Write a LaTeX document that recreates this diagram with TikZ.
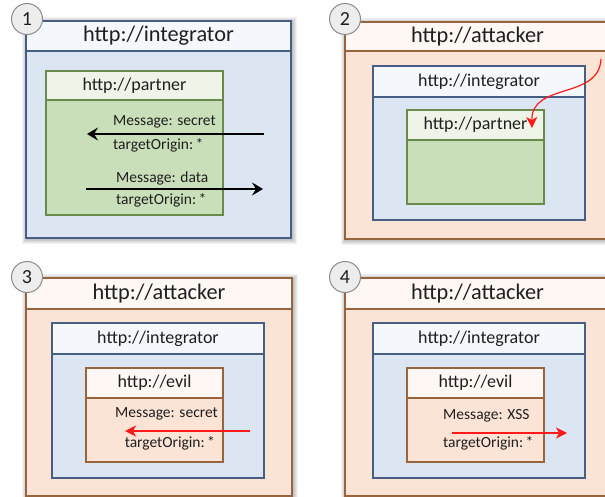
\documentclass[tikz,border=0pt]{standalone}
\usepackage{fontspec}
\setmainfont{Carlito}
\usetikzlibrary{arrows.meta}

\definecolor{IntBody}{HTML}{DCE6F2}
\definecolor{IntHead}{HTML}{F4F7FC}
\definecolor{IntLine}{HTML}{465D84}
\definecolor{PartBody}{HTML}{C9DFB9}
\definecolor{PartHead}{HTML}{EEF5E8}
\definecolor{PartLine}{HTML}{6A8A4C}
\definecolor{AttBody}{HTML}{FBE3D6}
\definecolor{AttHead}{HTML}{FEF7F3}
\definecolor{AttLine}{HTML}{98643E}
\definecolor{TextCol}{HTML}{1F1F1F}
\definecolor{BadgeFill}{HTML}{EDEDED}
\definecolor{BadgeLine}{HTML}{8C8C8C}
\definecolor{AttackRed}{HTML}{FF1A1A}

% window box: #1 colour prefix, (#2,#3)-(#4,#5) corners, #6 header bottom,
% #7 title, #8 title size, #9 title node name
\newcommand{\winbox}[9]{%
  \fill[#1Body] (#2,#3) rectangle (#4,#5);
  \fill[#1Head] (#2,#3) rectangle (#4,#6);
  \draw[#1Line, line width=1.3pt] (#2,#6) -- (#4,#6);
  \draw[#1Line, line width=1.3pt] (#2,#3) rectangle (#4,#5);
  \node[title, font=\fontsize{#8}{#8}\selectfont] (#9) at ({(#2+#4)/2},{(#3+#6)/2}) {#7};
}
% soft shadow round an outer window
\newcommand{\softshadow}[4]{%
  \foreach \k in {1,...,5}{
    \fill[black, opacity=0.05] ({#1-\k+1},{#2-\k+1}) rectangle ({#3+\k+1},{#4+\k+1});
  }
}
\newcommand{\tgo}{targetOrigin:\hspace{0.15em}*}

\begin{document}
\begin{tikzpicture}[x=1pt, y=-1pt,
  title/.style={text=TextCol, inner sep=0pt},
  msg/.style={text=TextCol, inner sep=0pt, font=\fontsize{15.5}{15.5}\selectfont},
  badge/.style={circle, draw=BadgeLine, fill=BadgeFill, line width=1pt,
    minimum size=31pt, inner sep=0pt, text=TextCol, font=\fontsize{20}{20}\selectfont},
  flow/.style={line width=1.4pt, -{Stealth[length=11pt, width=13pt, inset=4pt]}},
  attack/.style={AttackRed, line width=1.2pt, -{Stealth[length=11pt, width=11pt, inset=3pt]}}]

\clip (0,0) rectangle (605,497);
\fill[white] (0,0) rectangle (605,497);

% ---------- 1: integrator frames partner ----------
\softshadow{26}{21}{291}{238}
\winbox{Int}{26}{21}{291}{238}{51}{http://integrator}{22.3}{t1}
\winbox{Part}{46}{71}{223}{215}{100}{http://partner}{18}{p1}
\node[msg, anchor=west] (m1a) at (113,122) {Message: secret};
\node[msg, anchor=west] (m1b) at (113,145) {\tgo};
\node[msg, anchor=west] (m1c) at (116,178) {Message: data};
\node[msg, anchor=west] (m1d) at (116,200) {\tgo};
\coordinate (a1s) at (264,134);
\coordinate (a1e) at (87,134);
\coordinate (b1s) at (86,189);
\coordinate (b1e) at (263,189);
\draw[flow] (a1s) -- (a1e);
\draw[flow] (b1s) -- (b1e);
\node[badge] (n1) at (27,19) {1};

% ---------- 2: attacker frames integrator ----------
\softshadow{345}{22}{610}{239}
\winbox{Att}{345}{22}{610}{239}{51}{http://attacker}{22.3}{t2}
\winbox{Int}{373}{66}{585}{220}{97}{http://integrator}{18}{i2}
\winbox{Part}{407}{110}{544}{204}{140}{http://partner}{18}{p2}
\coordinate (r2s) at (601,59);
\coordinate (r2e) at (532,128);
\draw[attack] (r2s) .. controls (599,100) and (531,82) .. (r2e);
\node[badge] (n2) at (345,19) {2};

% ---------- 3: attacker frames integrator frames evil ----------
\softshadow{26}{278}{292}{496}
\winbox{Att}{26}{278}{292}{496}{309}{http://attacker}{22.3}{t3}
\winbox{Int}{52}{323}{264}{478}{354}{http://integrator}{18}{i3}
\winbox{Att}{86}{368}{223}{462}{398}{http://evil}{18}{e3}
\node[msg, anchor=east] (m3a) at (218,414) {Message: secret};
\node[msg, anchor=east] (m3b) at (215,443) {\tgo};
\coordinate (r3s) at (250,431);
\coordinate (r3e) at (125,431);
\draw[attack] (r3s) -- (r3e);
\node[badge] (n3) at (27,277) {3};

% ---------- 4: evil posts XSS ----------
\softshadow{345}{278}{610}{496}
\winbox{Att}{345}{278}{610}{496}{309}{http://attacker}{22.3}{t4}
\winbox{Int}{373}{323}{585}{478}{354}{http://integrator}{18}{i4}
\winbox{Att}{407}{368}{544}{462}{398}{http://evil}{18}{e4}
\node[msg, anchor=west] (m4a) at (443,416) {Message: XSS};
\node[msg, anchor=west] (m4b) at (443,443) {\tgo};
\coordinate (r4s) at (452,433);
\coordinate (r4e) at (567,433);
\draw[attack] (r4s) -- (r4e);
\node[badge] (n4) at (345,277) {4};

\end{tikzpicture}
\end{document}
